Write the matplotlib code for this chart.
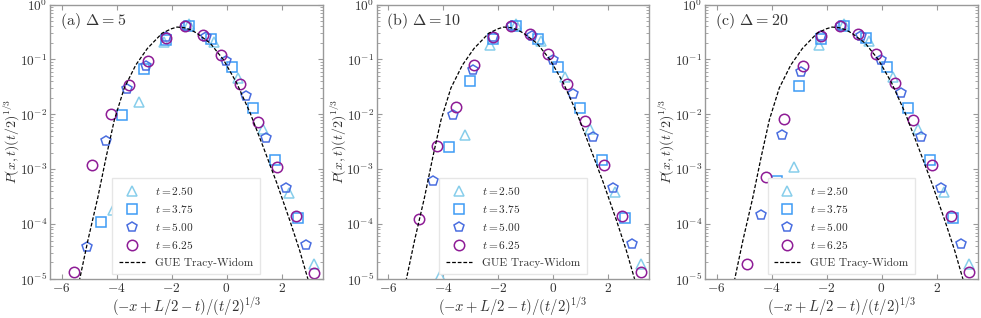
import numpy as np
import matplotlib
matplotlib.use("Agg")
import matplotlib.pyplot as plt

plt.rcParams['font.family'] = 'serif'
plt.rcParams['font.serif'] = ['cmr10', 'DejaVu Serif']
plt.rcParams['mathtext.fontset'] = 'cm'
plt.rcParams['axes.formatter.use_mathtext'] = True
plt.rcParams['axes.unicode_minus'] = True

nan = np.nan

# scaled positions (same for every panel), one array per t
x_t250 = [-4.12, -3.20, -2.29, -1.37, -0.46, 0.43, 1.33, 2.26, 3.18]
x_t375 = [-4.58, -3.79, -3.01, -2.20, -1.37, -0.55, 0.19, 0.97, 1.78, 2.60]
x_t500 = [-5.08, -4.38, -3.63, -2.93, -2.19, -1.49, -0.76, -0.01, 0.71, 1.44, 2.17, 2.88]
x_t625 = [-5.56, -4.89, -4.22, -3.54, -2.87, -2.20, -1.52, -0.86, -0.19, 0.49,
          1.16, 1.84, 2.51, 3.18]

# panel (a) Delta = 5
a_t250 = [1.8e-4, 0.017, 0.21, 0.44, 0.21, 0.046, 5.4e-3, 3.7e-4, 1.9e-5]
a_t375 = [1.1e-4, 9.7e-3, 0.066, 0.23, 0.40, 0.24, 0.072, 0.013, 1.5e-3, 1.3e-4]
a_t500 = [3.8e-5, 3.3e-3, 0.029, 0.077, 0.26, 0.41, 0.26, 0.095, 0.022, 3.7e-3,
          4.5e-4, 4.1e-5]
a_t625 = [1.33e-5, 1.2e-3, 0.0103, 0.034, 0.092, 0.25, 0.40, 0.28, 0.12, 0.035,
          7.4e-3, 1.1e-3, 1.4e-4, 1.3e-5]

# panel (b) Delta = 10
b_t250 = [1.15e-5, 4.2e-3, 0.18, 0.44, 0.22, 0.047, 5.5e-3, 3.8e-4, 1.9e-5]
b_t375 = [nan, 2.5e-3, 0.041, 0.24, 0.40, 0.24, 0.072, 0.013, 1.5e-3, 1.3e-4]
b_t500 = [nan, 6.2e-4, 9.6e-3, 0.063, 0.26, 0.41, 0.27, 0.096, 0.023, 3.9e-3,
          4.5e-4, 4.3e-5]
b_t625 = [nan, 1.26e-4, 2.6e-3, 0.0136, 0.080, 0.26, 0.40, 0.29, 0.127, 0.036,
          7.6e-3, 1.2e-3, 1.4e-4, 1.37e-5]

# panel (c) Delta = 20
c_t250 = [nan, 1.1e-3, 0.18, 0.44, 0.22, 0.047, 5.5e-3, 3.8e-4, 1.9e-5]
c_t375 = [nan, 6.2e-4, 0.033, 0.24, 0.41, 0.25, 0.074, 0.013, 1.5e-3, 1.3e-4]
c_t500 = [nan, 1.45e-4, 4.2e-3, 0.059, 0.27, 0.41, 0.27, 0.099, 0.024, 3.9e-3,
          4.6e-4, 4.3e-5]
c_t625 = [nan, 1.9e-5, 7.1e-4, 8.1e-3, 0.077, 0.27, 0.40, 0.29, 0.127, 0.037,
          7.8e-3, 1.2e-3, 1.4e-4, 1.37e-5]

# GUE Tracy-Widom curve (x, log10 of density)
tw_x = [-5.42, -5.34, -5.04, -4.68, -4.38, -4.08, -3.72, -3.30, -2.88, -2.34,
        -2.0, -1.8, -1.55, -1.3, -1.07, -0.59, -0.11, 0.37, 0.855, 1.34,
        1.82, 2.30, 2.66, 2.96, 3.05]
tw_log = [-5.35, -5.0, -4.29, -3.51, -2.78, -2.10, -1.52, -1.10, -0.80, -0.52,
          -0.44, -0.41, -0.42, -0.46, -0.524, -0.705, -1.006, -1.43, -1.97, -2.60,
          -3.24, -3.93, -4.48, -5.0, -5.15]

panels = [('(a) $\\Delta = 5$', [a_t250, a_t375, a_t500, a_t625]),
          ('(b) $\\Delta = 10$', [b_t250, b_t375, b_t500, b_t625]),
          ('(c) $\\Delta = 20$', [c_t250, c_t375, c_t500, c_t625])]
xs = [x_t250, x_t375, x_t500, x_t625]
t_labels = ['$t = 2.50$', '$t = 3.75$', '$t = 5.00$', '$t = 6.25$']
markers = ['^', 's', 'p', 'o']
colors = ['#87CEEB', '#3D9BF5', '#4A6EE0', '#8E1C96']

fig = plt.figure(figsize=(9.81, 3.18), dpi=100)
lefts = [0.051, 0.384, 0.7187]
grey = '#999999'
txt = '#333333'

for left, (title, ys) in zip(lefts, panels):
    ax = fig.add_axes([left, 0.1226, 0.278, 0.863])
    for x, y, m, c, lab in zip(xs, ys, markers, colors, t_labels):
        ax.plot(x, y, linestyle='none', marker=m, ms=7.5, mfc='none', mec=c,
                mew=1.1, label=lab)
    ax.plot(tw_x, 10.0 ** np.array(tw_log), 'k--', lw=0.9, dashes=(3, 1.5),
            label='GUE Tracy-Widom')
    ax.set_yscale('log')
    ax.set_xlim(-6.42, 3.5)
    ax.set_ylim(1e-5, 1)
    ax.set_xticks([-6, -4, -2, 0, 2])
    ax.tick_params(which='both', direction='in', top=True, right=True,
                   color=grey, labelcolor=txt, labelsize=9.6, pad=2)
    ax.tick_params(which='major', length=3.5, width=0.8)
    ax.tick_params(which='minor', length=2, width=0.6)
    for s in ax.spines.values():
        s.set_color(grey)
        s.set_linewidth(1.0)
    ax.set_xlabel('$(-x + L/2 - t)/(t/2)^{1/3}$', fontsize=10.5, color=txt)
    ax.xaxis.set_label_coords(0.5, -0.06)
    ax.set_ylabel('$P(x,t)(t/2)^{1/3}$', fontsize=10, color=txt)
    ax.yaxis.set_label_coords(-0.107, 0.5)
    ax.text(0.035, 0.925, title, transform=ax.transAxes, fontsize=11.5, color=txt)
    leg = ax.legend(loc='lower center', fontsize=8.2, labelspacing=0.55,
                    framealpha=1, fancybox=False, edgecolor='#e6e6e6',
                    borderaxespad=0.4, borderpad=0.6, handlelength=2.25,
                    handletextpad=0.9)
    for t in leg.get_texts():
        t.set_color(txt)

fig.savefig('out.png', dpi=100)
